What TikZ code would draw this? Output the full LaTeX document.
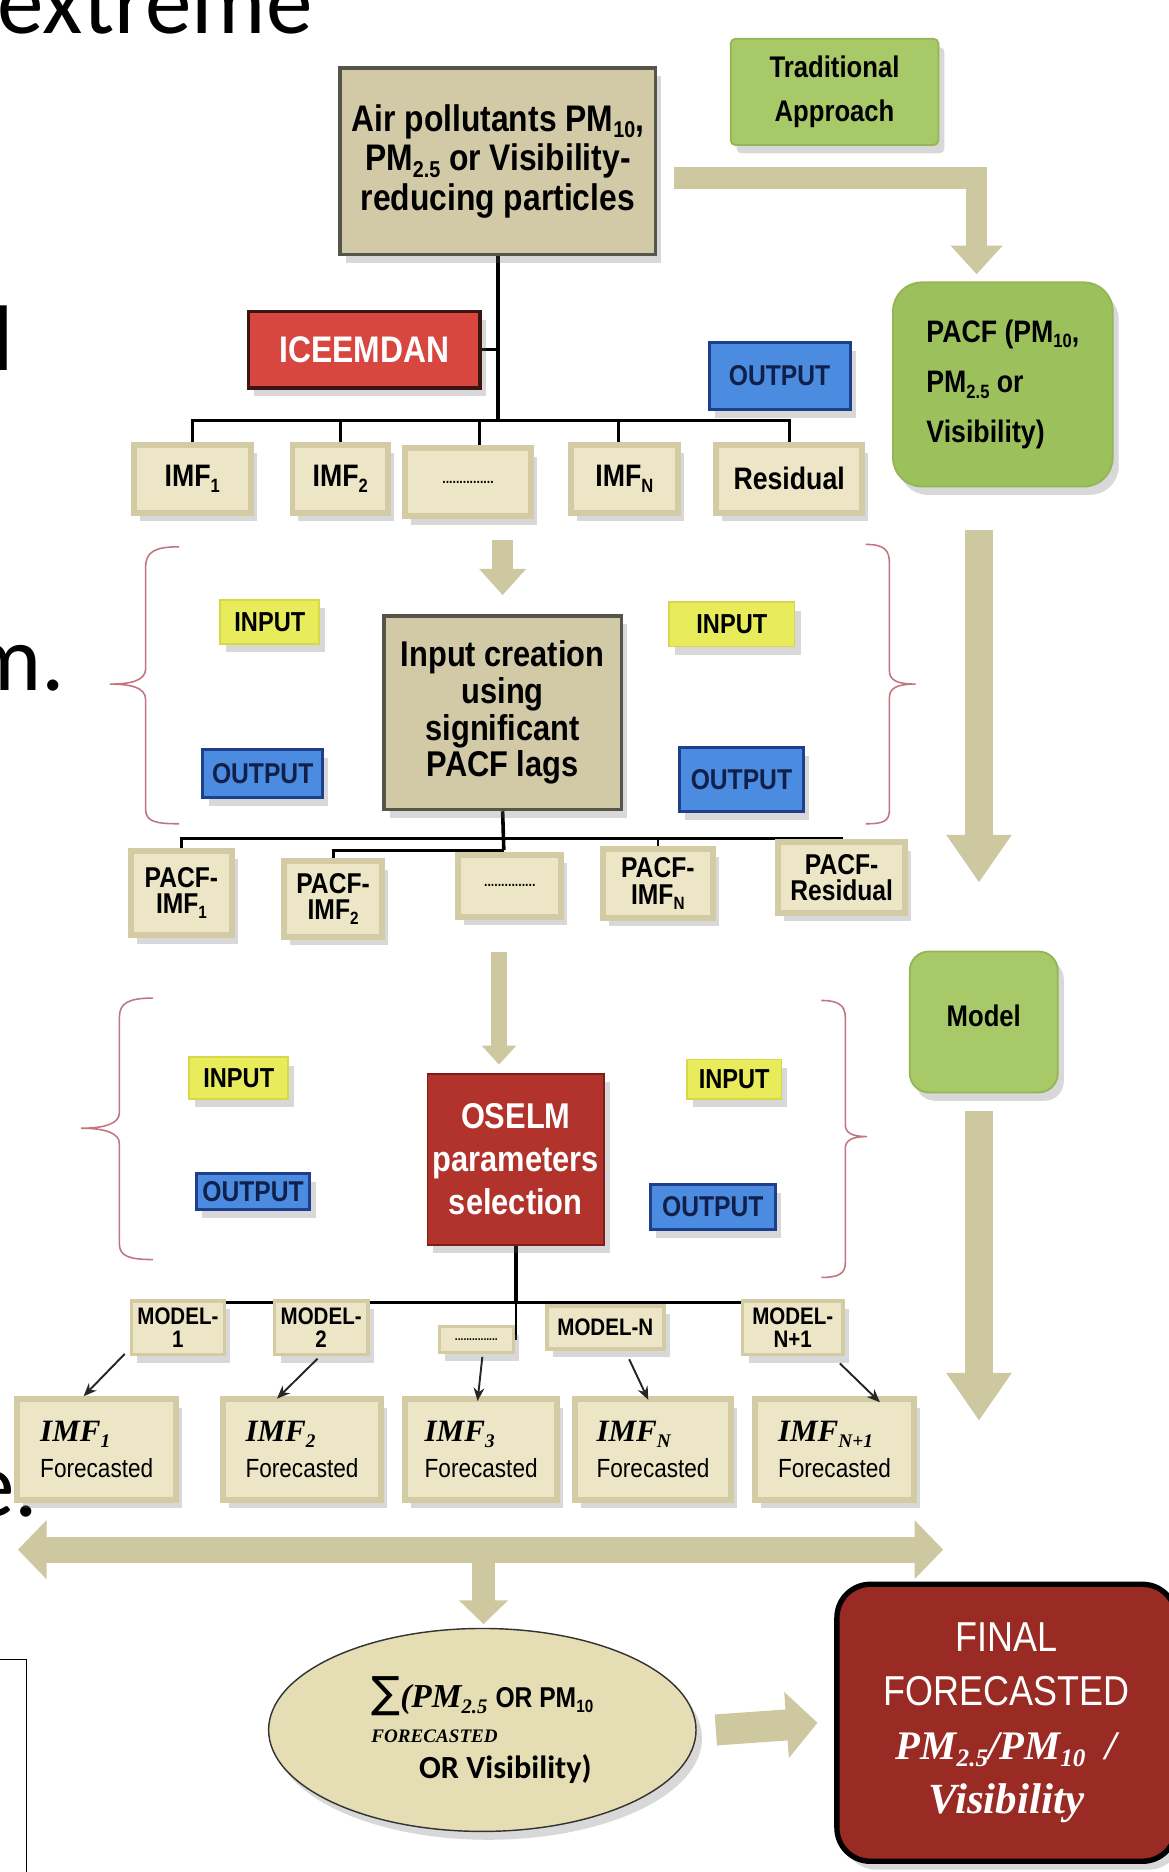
\documentclass[tikz,border=0pt]{standalone}
\usepackage{fontspec}
\usepackage{graphicx}
\setmainfont{Liberation Sans}
\newfontfamily\nar[FakeStretch=0.86]{Liberation Sans}
\newfontfamily\ser{Liberation Serif}
\newfontfamily\calib{Carlito}
\newfontfamily\dv{DejaVu Sans}
\usetikzlibrary{shapes.geometric,arrows.meta,shadows,backgrounds,calc}
\newcommand{\fs}[2]{\fontsize{#1}{#2}\selectfont}
\newcommand{\dn}[1]{\raisebox{-0.18em}{\scalebox{0.62}{#1}}}
\newcommand{\sbi}{\ser\bfseries\itshape}
\definecolor{topfill}{HTML}{D2CAA6}
\definecolor{boxedge}{HTML}{55554A}
\definecolor{tanlight}{HTML}{ECE6C6}
\definecolor{tanedge}{HTML}{D3CBA3}
\definecolor{arrowtan}{HTML}{CEC8A0}
\definecolor{greenfill}{HTML}{A8C968}
\definecolor{greenedge}{HTML}{94B455}
\definecolor{pacfgreen}{HTML}{9CC05B}
\definecolor{icered}{HTML}{D8473F}
\definecolor{iceedge}{HTML}{3A1512}
\definecolor{oselred}{HTML}{B2322C}
\definecolor{oseledge}{HTML}{7A1E1A}
\definecolor{finalred}{HTML}{9A2A24}
\definecolor{outblue}{HTML}{4C8CE0}
\definecolor{outedge}{HTML}{1E3F8C}
\definecolor{outtext}{HTML}{10204A}
\definecolor{inyellow}{HTML}{E8EC5B}
\definecolor{inedge}{HTML}{D6D84A}
\definecolor{bracecol}{HTML}{C27480}
\definecolor{ellfill}{HTML}{E5DEB4}
\begin{document}
\begin{tikzpicture}[x=1pt,y=-1pt,
  shad/.style={drop shadow={shadow xshift=5pt,shadow yshift=-7pt,opacity=0.25,fill=black!60}},
  topbox/.style={draw=boxedge,line width=3pt,fill=topfill,align=center,inner sep=2pt,shad,
     font=\nar\bfseries\fs{31}{33}},
  greenbox/.style={draw=greenedge,line width=1.5pt,fill=greenfill,shad,inner sep=2pt},
  bevel/.style={draw=tanedge,line width=5pt,fill=tanlight,align=center,inner sep=1pt,shad},
  outbox/.style={draw=outedge,line width=2.5pt,fill=outblue,text=outtext,inner sep=1pt,shad,
     font=\nar\bfseries\fs{24}{24}},
  inpbox/.style={draw=inedge,line width=1.5pt,fill=inyellow,inner sep=1pt,shad,
     font=\nar\bfseries\fs{23}{23}},
  redbox/.style={line width=3pt,text=white,align=center,inner sep=2pt,shad},
  treeln/.style={draw=black,line width=3pt},
  tanarr/.style={draw=arrowtan},
  thin/.style={draw=black!85,line width=1.6pt,-{Stealth[length=11pt,width=9pt]}},
  bracepath/.style={draw=bracecol,line width=1.3pt},
  stray/.style={font=\calib\fs{78}{78},inner sep=0pt,anchor=base east}
]
\useasboundingbox (0,0) rectangle (979,1568);

% stray background text of the slide
\node[stray] (s1) at (262,28) {extreme};
\node[stray] (s2) at (12,310) {l};
\node[stray] (s3) at (55,578) {m.};
\node[stray] (s4) at (32,1270) {e.};
\draw[line width=1.2pt] (-10,1390) -- (22,1390) -- (22,1580);

% top
\node[topbox,minimum width=264,minimum height=156] (top) at (417,135)
  {Air pollutants PM\dn{10},\\PM\dn{2.5} or Visibility-\\reducing particles};
\node[greenbox,rounded corners=4pt,minimum width=174,minimum height=89,align=center,
  font=\nar\bfseries\fs{25}{37}] (trad) at (699,77) {Traditional\\Approach};
\node[greenbox,fill=pacfgreen,rounded corners=24pt,minimum width=184,minimum height=171,
  align=left,font=\nar\bfseries\fs{26}{42}] (pacf) at (840,322)
  {PACF (PM\dn{10},\\PM\dn{2.5} or\\Visibility)};
\node[redbox,draw=iceedge,fill=icered,minimum width=194,minimum height=64,
  font=\nar\bfseries\fs{31}{31}] (ice) at (305,293) {ICEEMDAN};
\node[outbox,minimum width=118,minimum height=56] (outA) at (653,315) {OUTPUT};

% IMF row
\begin{scope}[every node/.append style={bevel,minimum height=57,font=\nar\bfseries\fs{26}{26}}]
\node[minimum width=98] (imf1) at (161,401) {IMF\dn{1}};
\node[minimum width=80] (imf2) at (285,401) {IMF\dn{2}};
\node[minimum width=106,font=\nar\bfseries\fs{12}{12}] (dotsA) at (392,404) {...............};
\node[minimum width=90] (imfn) at (523,401) {IMF\dn{N}};
\node[minimum width=122] (resid) at (661,401) {Residual};
\end{scope}

% input creation block
\node[topbox,minimum width=199,minimum height=162,font=\nar\bfseries\fs{30}{30.7}] (inc) at (421,597)
  {Input creation\\using\\significant\\PACF lags};
\node[inpbox,minimum width=83,minimum height=37] (inL1) at (226,521) {INPUT};
\node[outbox,minimum width=100,minimum height=40] (outL1) at (220,648) {OUTPUT};
\node[inpbox,minimum width=105,minimum height=37] (inR1) at (613,523) {INPUT};
\node[outbox,minimum width=104,minimum height=53] (outR1) at (621,653) {OUTPUT};

% PACF row
\begin{scope}[every node/.append style={bevel,font=\nar\bfseries\fs{24}{22}}]
\node[minimum width=85,minimum height=71] (p1) at (152,748) {PACF-\\IMF\dn{1}};
\node[minimum width=82,minimum height=63] (p2) at (279,753) {PACF-\\IMF\dn{2}};
\node[minimum width=86,minimum height=52,font=\nar\bfseries\fs{12}{12}] (dotsB) at (427,742) {...............};
\node[minimum width=92,minimum height=58] (pn) at (551,740) {PACF-\\IMF\dn{N}};
\node[minimum width=106,minimum height=59] (pres) at (705,735) {PACF-\\Residual};
\end{scope}

\node[greenbox,fill=greenfill,rounded corners=16pt,minimum width=124,minimum height=118,
  font=\nar\bfseries\fs{25}{25}] (model) at (824,856) {\raisebox{10pt}{Model}};

% OSELM block
\node[redbox,draw=oseledge,line width=1.5pt,fill=oselred,minimum width=148,minimum height=143,
  font=\nar\bfseries\fs{30}{36}] (osel) at (432,971) {OSELM\\parameters\\selection};
\node[inpbox,minimum width=83,minimum height=35] (inL2) at (200,903) {INPUT};
\node[outbox,minimum width=95,minimum height=30] (outL2) at (212,998) {OUTPUT};
\node[inpbox,minimum width=79,minimum height=33] (inR2) at (615,904) {INPUT};
\node[outbox,minimum width=105,minimum height=38] (outR2) at (597,1011) {OUTPUT};

% MODEL row
\begin{scope}[every node/.append style={bevel,line width=3pt,font=\nar\bfseries\fs{20}{19}}]
\node[minimum width=78,minimum height=45] (m1) at (149,1112) {MODEL-\\1};
\node[minimum width=78,minimum height=45] (m2) at (269,1112) {MODEL-\\2};
\node[minimum width=62,minimum height=22,font=\nar\bfseries\fs{10}{10}] (dotsC) at (399,1122) {...............};
\node[minimum width=98,minimum height=36] (mn) at (507,1112) {MODEL-N};
\node[minimum width=84,minimum height=45] (mn1) at (664,1112) {MODEL-\\N+1};
\end{scope}

% forecast row
\begin{scope}[every node/.append style={bevel,minimum height=84,align=left,font=\nar\fs{22}{30}}]
\node[minimum width=133] (f1) at (81,1214) {{\sbi\fs{26}{26}IMF\dn{1}}\\Forecasted};
\node[minimum width=133] (f2) at (253,1214) {{\sbi\fs{26}{26}IMF\dn{2}}\\Forecasted};
\node[minimum width=127] (f3) at (403,1214) {{\sbi\fs{26}{26}IMF\dn{3}}\\Forecasted};
\node[minimum width=131] (fn) at (547,1214) {{\sbi\fs{26}{26}IMF\dn{N}}\\Forecasted};
\node[minimum width=133] (fn1) at (699,1214) {{\sbi\fs{26}{26}IMF\dn{N+1}}\\Forecasted};
\end{scope}

% ellipse and final
\node[ellipse,draw=black!80,line width=1.2pt,fill=ellfill,minimum width=358,minimum height=170,
  align=left,inner sep=0pt,shad,font=\fs{24}{30}] (ell) at (404,1449)
  {{\dv\fs{36}{30}∑}{\sbi\fs{28}{28}(PM\dn{2.5}} {\nar\bfseries OR PM\dn{10}}\\
   {\sbi\fs{16}{16}FORECASTED}\\
   \hspace*{40pt}{\calib\bfseries\fs{27}{27}OR Visibility)}};
\node[draw=black,line width=4.5pt,fill=finalred,rounded corners=28pt,minimum width=284,
  minimum height=232,text=white,align=center,shad,font=\nar\fs{35}{45}] (final) at (843,1443)
  {FINAL\\FORECASTED\\{\sbi\fs{34}{45}PM\dn{2.5}/PM\dn{10} \ /}\\{\sbi\fs{36}{45}Visibility}};

\coordinate (busA) at (417,352);
\coordinate (busB) at (422,702);
\coordinate (busC) at (432,1091);
\coordinate (dl) at (15,1298);
\coordinate (dr) at (790,1298);
\coordinate (mEnd) at (820,1190);

\begin{scope}[on background layer]
\fill[white] (0,0) rectangle (979,1568);
% tree lines
\draw[treeln] (top.south) -- (busA);
\draw[treeln,line width=2.5pt] (ice.east) -- (ice.east -| busA);
\draw[treeln,line width=2.5pt] (imf1.north) |- (busA);
\draw[treeln,line width=2.5pt] (imf2.north) |- (busA);
\draw[treeln,line width=2.5pt] ([xshift=10pt]dotsA.north) |- (busA);
\draw[treeln,line width=2.5pt] ([xshift=-5pt]imfn.north) |- (busA);
\draw[treeln,line width=2.5pt] (resid.north) |- (busA);

\draw[treeln] (inc.south) -- ($(busB)+(0,10)$);
\draw[treeln,line width=2.5pt] (p1.north) |- (busB);
\draw[treeln,line width=2.5pt] (pres.north) |- (busB);
\draw[treeln,line width=2pt] (pn.north) |- (busB);
\draw[treeln,line width=2.5pt] (p2.north) |- ($(busB)+(0,10)$);

\draw[treeln] (osel.south) -- (busC);
\draw[treeln,line width=2.5pt] (m1.north) |- (busC);
\draw[treeln,line width=2.5pt] (m2.north) |- (busC);
\draw[treeln,line width=2.5pt] (mn.north) |- (busC);
\draw[treeln,line width=2.5pt] (mn1.north) |- (busC);
\draw[treeln,line width=1.5pt] (busC) |- (dotsC.east);
\end{scope}

% thin model arrows
\draw[thin] ($(m1.south west)+(-4,-2)$) -- ($(f1.north)+(-11,0)$);
\draw[thin] ($(m2.south)+(-3,2)$) -- ($(f2.north)+(-21,2)$);
\draw[thin] ($(dotsC.south)+(5,2)$) -- ($(f3.north)+(-3,4)$);
\draw[thin] ($(mn.south)+(20,7)$) -- ($(fn.north)+(-4,3)$);
\draw[thin] ($(mn1.south east)+(-4,6)$) -- ($(fn1.north)+(38,5)$);

% thick tan arrows
\draw[tanarr,line width=18pt,-{Triangle[width=42pt,length=24pt]}]
  ($(top.east)+(14,14)$) -| ($(pacf.north)+(-22,-6)$);
\draw[tanarr,line width=17pt,-{Triangle[width=38pt,length=22pt]}]
  ($(inc.north |- dotsA.south)+(0,17)$) -- ($(inc.north)+(0,-16)$);
\draw[tanarr,line width=24pt,-{Triangle[width=52pt,length=40pt]}]
  ($(pacf.south)+(-20,36)$) -- ($(model.north)+(-4,-57)$);
\draw[tanarr,line width=14pt,-{Triangle[width=28pt,length=16pt]}]
  ($(osel.north |- dotsB.south)+(-14,27)$) -- ($(osel.north)+(-14,-7)$);
\draw[tanarr,line width=24pt,-{Triangle[width=52pt,length=40pt]}]
  ($(model.south)+(-4,15)$) -- (mEnd);
\draw[tanarr,line width=22pt,{Triangle[width=48pt,length=24pt]}-{Triangle[width=48pt,length=24pt]}]
  (dl) -- (dr);
\draw[tanarr,line width=20pt,-{Triangle[width=40pt,length=20pt]}]
  ($(ell.north)+(1,-54)$) -- ($(ell.north)+(1,-3)$);
\draw[tanarr,line width=26pt,-{Triangle[width=54pt,length=26pt]}]
  ($(ell.east)+(16,0)$) -- ($(final.west)+(-14,0)$);

% braces
\draw[bracepath] (150,458) .. controls (130,458) and (122,462) .. (122,475) -- (122,560)
  .. controls (122,570) and (110,573) .. (92,573) .. controls (110,573) and (122,576) .. (122,586)
  -- (122,678) .. controls (122,688) and (130,690) .. (150,690);
\draw[bracepath] (725,456) .. controls (740,456) and (745,460) .. (745,472) -- (745,562)
  .. controls (745,570) and (752,573) .. (767,573) .. controls (752,573) and (745,576) .. (745,584)
  -- (745,678) .. controls (745,688) and (740,690) .. (725,690);
\draw[bracepath] (128,836) .. controls (108,836) and (100,840) .. (100,852) -- (100,932)
  .. controls (100,941) and (88,945) .. (68,945) .. controls (88,945) and (100,949) .. (100,958)
  -- (100,1042) .. controls (100,1052) and (108,1055) .. (128,1055);
\draw[bracepath] (688,838) .. controls (702,838) and (708,842) .. (708,852) -- (708,942)
  .. controls (708,949) and (714,952) .. (726,952) .. controls (714,952) and (708,955) .. (708,962)
  -- (708,1058) .. controls (708,1067) and (702,1070) .. (688,1070);
\end{tikzpicture}
\end{document}
